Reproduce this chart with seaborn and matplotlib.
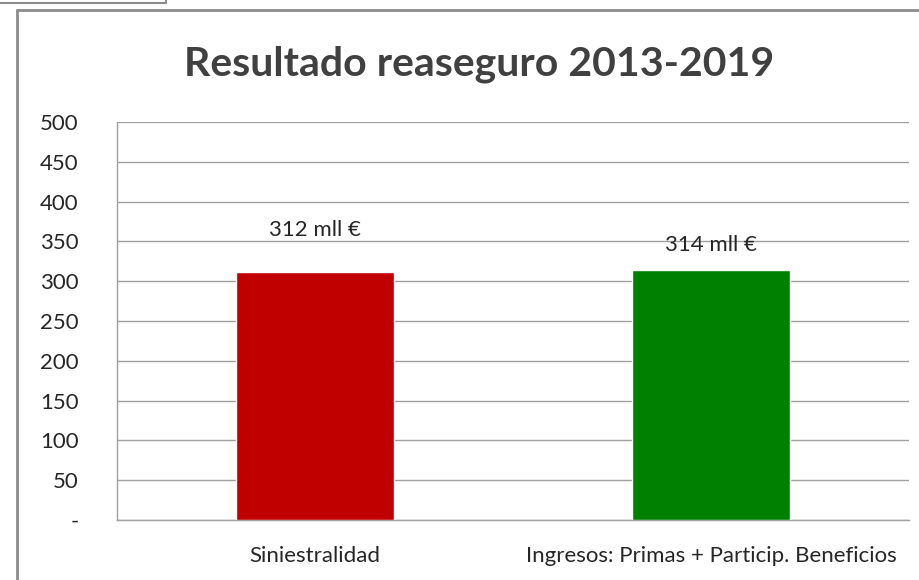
import numpy as np
import pandas as pd
import matplotlib
matplotlib.use("Agg")
import matplotlib.pyplot as plt
from matplotlib.lines import Line2D
import seaborn as sns

# data
categories = ["Siniestralidad", "Ingresos: Primas + Particip. Beneficios"]
values = [312, 314]
bar_labels = ["312 mll €", "314 mll €"]
label_offsets = [52, 31]  # label sits above bar top (data units)
bar_colors = ["#C00000", "#008000"]
y_ticks = [0, 50, 100, 150, 200, 250, 300, 350, 400, 450, 500]
y_ticklabels = ["-"] + [str(v) for v in y_ticks[1:]]

sns.set_theme(style="white")
plt.rcParams["font.family"] = ["Lato", "DejaVu Sans"]

df = pd.DataFrame({"cat": categories, "val": values})

fig = plt.figure(figsize=(9.19, 5.8), dpi=100)
ax = fig.add_axes([0.1273, 0.1034, 0.8618, 0.6863])

sns.barplot(data=df, x="cat", y="val", hue="cat", palette=bar_colors,
            width=0.4, legend=False, ax=ax, saturation=1, zorder=3)

grid_c = "#A0A0A0"
txt_c = "#262626"
fs = 16
ax.set_ylim(0, 500)
ax.set_xlim(-0.5, 1.5)
ax.set_yticks(y_ticks)
ax.set_yticklabels(y_ticklabels)
ax.yaxis.grid(True, color=grid_c, linewidth=1)
ax.set_axisbelow(True)
ax.set_xlabel("")
ax.set_ylabel("")

for s in ["top", "right"]:
    ax.spines[s].set_visible(False)
for s in ["left", "bottom"]:
    ax.spines[s].set_color(grid_c)
    ax.spines[s].set_linewidth(1)

ax.tick_params(axis="y", length=9, width=1, color=grid_c, pad=18.5,
               labelsize=fs, labelcolor=txt_c)
ax.tick_params(axis="x", which="major", length=0, pad=19,
               labelsize=fs, labelcolor=txt_c)
ax.set_xticks([-0.5, 0.5, 1.5], minor=True)
ax.tick_params(axis="x", which="minor", length=9, width=1, color=grid_c)

for i, (v, lab, off) in enumerate(zip(values, bar_labels, label_offsets)):
    ax.text(i, v + off, lab, ha="center", va="center", fontsize=fs,
            color=txt_c)

fig.text(0.521, 0.89, "Resultado reaseguro 2013-2019", ha="center", va="center",
         fontsize=29.5, fontweight="bold", color="#404040")

# chart frame and the edge of a box above it
frame_c = "#8C8C8C"
fig.add_artist(Line2D([17 / 919, 17 / 919], [0, 1 - 10 / 580], transform=fig.transFigure,
                      color=frame_c, linewidth=2))
fig.add_artist(Line2D([17 / 919, 1], [1 - 10 / 580, 1 - 10 / 580], transform=fig.transFigure,
                      color=frame_c, linewidth=2))
fig.add_artist(Line2D([0, 166 / 919], [1 - 3 / 580, 1 - 3 / 580], transform=fig.transFigure,
                      color=frame_c, linewidth=1.5))
fig.add_artist(Line2D([166 / 919, 166 / 919], [1 - 3 / 580, 1], transform=fig.transFigure,
                      color=frame_c, linewidth=1.5))

fig.savefig("out.png", dpi=100)
